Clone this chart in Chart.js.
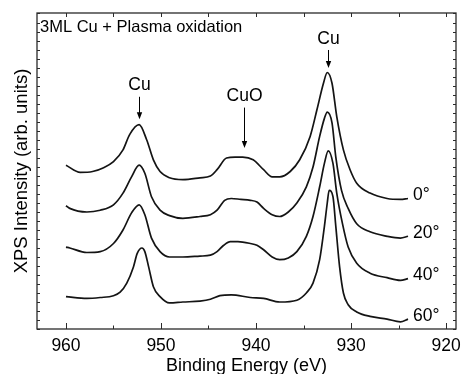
<!DOCTYPE html>
<html>
<head>
<meta charset="utf-8">
<script src="https://cdn.jsdelivr.net/npm/chart.js@4.4.1/dist/chart.umd.min.js"></script>
<style>
  html, body { margin: 0; padding: 0; background: #ffffff; }
  canvas { display: block; }
</style>
</head>
<body>
<canvas id="chart" width="462" height="374"></canvas>
<script>
// Cu 2p spectra after plasma oxidation, recorded at four emission angles (offset vertically)
const energy0 = [960.0,958.5,957.2,956.1,955.0,954.0,953.3,952.3,951.5,950.8,950.1,949.1,947.7,945.9,944.8,944.1,943.1,942.2,941.4,940.3,939.2,938.3,937.5,936.4,935.4,934.3,933.6,932.9,932.5,932.0,931.5,930.8,930.1,929.4,928.0,926.2,924.8,924.0];
const counts0 = [18.2,17.4,17.5,17.9,18.6,19.9,21.6,22.7,21.0,18.8,17.5,16.8,16.6,16.8,17.0,17.7,19.0,19.1,19.1,18.8,17.7,16.9,16.9,17.5,18.8,21.4,24.3,27.3,28.5,27.3,23.6,19.9,17.7,16.2,15.1,14.5,14.4,14.5];

const energy20 = [960.0,959.6,957.8,956.4,955.0,954.0,953.1,952.3,951.7,951.0,950.1,949.1,947.7,945.9,944.8,944.1,943.3,942.6,941.6,940.6,939.9,939.2,938.3,937.5,936.6,935.7,934.7,934.0,933.3,932.8,932.5,932.0,931.6,931.0,930.3,929.4,928.0,926.2,924.8,924.0];
const counts20 = [13.7,13.4,13.0,13.2,13.8,15.1,16.9,18.2,17.3,14.7,13.2,12.6,12.3,12.5,12.7,13.2,14.3,14.5,14.4,14.3,14.1,13.4,12.7,12.5,13.0,14.0,15.8,18.0,21.4,23.4,24.1,22.9,19.1,15.4,13.4,11.7,10.8,10.3,10.1,10.3];

const energy40 = [960.0,959.6,957.8,956.4,955.0,954.0,953.1,952.3,951.7,951.0,950.1,949.1,947.7,945.9,944.8,944.1,943.4,942.7,941.9,940.6,939.9,939.2,938.3,937.5,936.6,935.7,934.7,934.0,933.3,932.8,932.4,931.9,931.5,930.9,930.3,929.4,928.0,926.2,924.8,924.0];
const counts40 = [9.1,9.0,8.5,8.6,9.5,11.0,12.9,13.8,12.7,10.1,8.6,8.0,8.0,8.1,8.2,8.6,9.3,9.7,9.7,9.5,9.3,8.8,8.0,7.7,7.9,8.6,10.3,12.5,15.8,18.4,19.8,18.4,15.1,11.7,9.1,7.3,6.2,5.7,5.4,5.6];

const energy60 = [960.0,957.8,956.4,955.0,954.3,953.6,952.9,952.5,952.0,951.7,951.3,950.8,950.1,949.1,947.7,945.9,944.8,943.8,942.6,940.6,939.2,937.5,935.7,934.7,934.0,933.3,932.8,932.5,932.3,931.9,931.6,931.2,930.8,930.3,929.4,928.0,926.2,924.8,924.0];
const counts60 = [3.6,3.4,3.5,3.7,4.1,5.1,6.9,8.4,9.0,8.6,6.9,4.7,3.6,2.9,3.0,3.1,3.3,3.7,3.8,3.5,3.4,3.0,3.2,4.0,5.1,7.7,11.4,14.0,15.4,14.7,11.4,6.9,4.0,2.7,1.9,1.4,1.1,0.8,1.1];

const angleLabels = ['0°', '20°', '40°', '60°'];
const xMajorTicks = [960, 950, 940, 930, 920];
const xMinorTicks = [955, 945, 935, 925];

// Peak annotations: label, binding energy, label height, arrow start and arrow tip (data units)
const peakMarks = [
  { text: 'Cu',  energy: 952.3, labelY: 27.1, fromY: 25.8, toY: 23.3 },
  { text: 'CuO', energy: 941.3, labelY: 25.9, fromY: 24.6, toY: 20.1 },
  { text: 'Cu',  energy: 932.4, labelY: 32.2, fromY: 31.0, toY: 29.0 }
];
const sampleTitle = '3ML Cu + Plasma oxidation';

const FONT = '"Liberation Sans", Arial, Helvetica, sans-serif';
const energies = [energy0, energy20, energy40, energy60];
const counts = [counts0, counts20, counts40, counts60];

const datasets = counts.map((vals, i) => ({
  label: angleLabels[i],
  data: vals.map((v, k) => ({ x: energies[i][k], y: v })),
  borderColor: '#141414',
  borderWidth: 1.7,
  pointRadius: 0,
  fill: false,
  cubicInterpolationMode: 'monotone'
}));

const decorations = {
  id: 'decorations',
  afterDraw(chart) {
    const { ctx, chartArea: a, scales: { x, y } } = chart;
    ctx.save();

    // frame
    ctx.strokeStyle = '#2a2a2a';
    ctx.lineWidth = 1.3;
    ctx.strokeRect(a.left, a.top, a.right - a.left, a.bottom - a.top);

    // inward tick marks
    ctx.lineWidth = 1;
    ctx.beginPath();
    xMajorTicks.forEach(v => {
      const p = Math.round(x.getPixelForValue(v)) + 0.5;
      ctx.moveTo(p, a.bottom); ctx.lineTo(p, a.bottom - 6);
      ctx.moveTo(p, a.top); ctx.lineTo(p, a.top + 4);
    });
    xMinorTicks.forEach(v => {
      const p = Math.round(x.getPixelForValue(v)) + 0.5;
      ctx.moveTo(p, a.bottom); ctx.lineTo(p, a.bottom - 3.5);
      ctx.moveTo(p, a.top); ctx.lineTo(p, a.top + 4);
    });
    y.ticks.forEach(t => {
      const p = Math.round(y.getPixelForValue(t.value)) + 0.5;
      ctx.moveTo(a.left, p); ctx.lineTo(a.left + 3, p);
      ctx.moveTo(a.right, p); ctx.lineTo(a.right - 3, p);
    });
    ctx.stroke();

    // sample description
    ctx.fillStyle = '#000';
    ctx.font = '16.5px ' + FONT;
    ctx.textAlign = 'left';
    ctx.textBaseline = 'alphabetic';
    ctx.fillText(sampleTitle, a.left + 3, a.top + 18.7);

    // peak labels with arrows
    ctx.font = '17.5px ' + FONT;
    ctx.textAlign = 'center';
    ctx.textBaseline = 'middle';
    ctx.strokeStyle = '#000';
    peakMarks.forEach(m => {
      const px = Math.round(x.getPixelForValue(m.energy)) + 0.5;
      ctx.fillText(m.text, px, y.getPixelForValue(m.labelY));
      const y0 = y.getPixelForValue(m.fromY);
      const y1 = y.getPixelForValue(m.toY);
      ctx.lineWidth = 1;
      ctx.beginPath();
      ctx.moveTo(px, y0); ctx.lineTo(px, y1 - 4);
      ctx.stroke();
      ctx.beginPath();
      ctx.moveTo(px, y1);
      ctx.lineTo(px - 2.7, y1 - 7);
      ctx.lineTo(px + 2.7, y1 - 7);
      ctx.closePath();
      ctx.fill();
    });

    // angle labels at the end of each spectrum
    ctx.font = '17.5px ' + FONT;
    ctx.textAlign = 'left';
    chart.data.datasets.forEach((ds, i) => {
      const last = ds.data[ds.data.length - 1];
      ctx.fillText(ds.label, x.getPixelForValue(last.x) + 5, y.getPixelForValue(last.y) - 3);
    });
    ctx.restore();
  }
};

new Chart(document.getElementById('chart'), {
  type: 'line',
  data: { datasets },
  options: {
    responsive: false,
    devicePixelRatio: 1,
    animation: false,
    events: [],
    layout: { padding: { top: 13, right: 6, left: 0, bottom: 0 } },
    plugins: { legend: { display: false }, tooltip: { enabled: false } },
    scales: {
      x: {
        type: 'linear',
        reverse: true,
        min: 918.95,
        max: 963.05,
        grid: { display: false },
        border: { display: false },
        afterBuildTicks: s => { s.ticks = xMajorTicks.map(v => ({ value: v })); },
        afterFit: s => { s.height = 45; },
        ticks: {
          autoSkip: false,
          maxRotation: 0,
          padding: -1.5,
          color: '#000',
          font: { family: FONT, size: 17.5 },
          callback: v => String(v)
        },
        title: {
          display: true,
          text: 'Binding Energy (eV)',
          color: '#000',
          font: { family: FONT, size: 18, lineHeight: 1 },
          padding: { top: 0, bottom: -1.5 }
        }
      },
      y: {
        type: 'linear',
        min: 0,
        max: 35.11,
        grid: { display: false },
        border: { display: false },
        afterFit: s => { s.width = 37; },
        ticks: { display: false, stepSize: 1 },
        title: {
          display: true,
          text: 'XPS Intensity (arb. units)',
          color: '#000',
          font: { family: FONT, size: 18.5, lineHeight: 1 },
          padding: { top: 12.4, bottom: 0 }
        }
      }
    }
  },
  plugins: [decorations]
});
</script>
</body>
</html>
